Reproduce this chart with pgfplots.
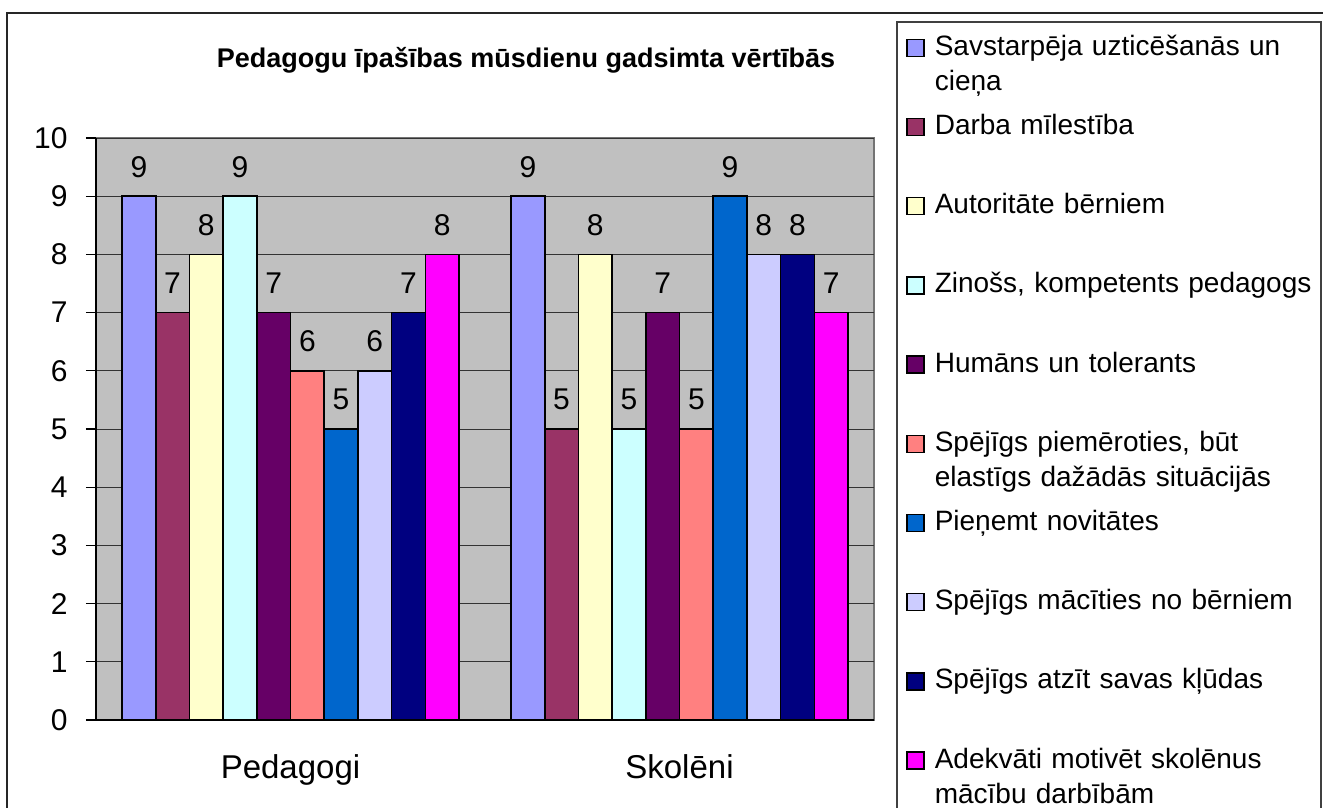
\documentclass[border=0pt]{standalone}
\usepackage{fontspec}
\setmainfont{Liberation Sans}
\usepackage{pgfplots}
\pgfplotsset{compat=1.18}
\definecolor{c1}{HTML}{9999FF}
\definecolor{c2}{HTML}{993366}
\definecolor{c3}{HTML}{FFFFCC}
\definecolor{c4}{HTML}{CCFFFF}
\definecolor{c5}{HTML}{660066}
\definecolor{c6}{HTML}{FF8080}
\definecolor{c7}{HTML}{0066CC}
\definecolor{c8}{HTML}{CCCCFF}
\definecolor{c9}{HTML}{000080}
\definecolor{c10}{HTML}{FF00FF}
\definecolor{plotbg}{HTML}{C0C0C0}

\begin{document}
\begin{tikzpicture}[x=0.5pt,y=-0.5pt]
\useasboundingbox (0,0) rectangle (1323,808);
% outer chart frame and legend box (cut off by the page edge)
\draw[black!85, line width=1pt] (7,830) -- (7,13) -- (1340,13);
\draw[black!75, line width=0.6pt] (897,830) -- (897,22) -- (1321,22) -- (1321,830);
\begin{axis}[
    at={(48pt,-360pt)}, anchor=south west,
    scale only axis, width=389pt, height=291pt,
    ybar=0pt, bar width=16.85pt,
    xmin=-0.5, xmax=1.5, ymin=0, ymax=10,
    xtick={0,1}, xticklabels={Pedagogi,Skolēni},
    ytick={0,1,...,10},
    axis x line*=bottom, axis y line*=left,
    axis line style={-, black, line width=0.6pt},
    axis background/.style={fill=plotbg, draw=black!55, line width=0.8pt},
    ymajorgrids, grid style={black!80, line width=0.5pt},
    tick align=outside, major tick length=5pt,
    major x tick style={draw=none},
    ytick style={black, line width=0.6pt},
    /pgf/number format/assume math mode=true,
    yticklabel style={font=\fontsize{15}{18}\selectfont, anchor=east, inner sep=0pt, xshift=-9pt},
    xticklabel style={font=\fontsize{16.5}{19}\selectfont, anchor=base, inner sep=0pt, yshift=-24pt},
    every axis title shift=0pt,
    title={Pedagogu īpašības mūsdienu gadsimta vērtībās},
    title style={at={(axis description cs:0.5527,1.122)}, anchor=base, inner sep=0pt,
                 font=\bfseries\fontsize{13.5}{16}\selectfont},
    nodes near coords,
    every node near coord/.append style={font=\fontsize{15}{18}\selectfont, black, inner sep=0pt, yshift=9pt},
    every axis plot/.append style={draw=black, line width=0.8pt},
    every axis plot post/.append style={legend image code/.code={
        \draw[##1, draw=black, line width=0.7pt] (0pt,-0.5pt) rectangle (8.5pt,8pt);}},
    legend style={at={(axis description cs:1.0411,1.1753)}, anchor=north west,
        draw=none, fill=none, inner sep=0pt, row sep=0pt, column sep=5pt,
        cells={anchor=base west},
        nodes={inner sep=0pt, font=\fontsize{14}{17.5}\selectfont,
               text width=200pt, align=left, text height=9.5pt, text depth=30.1pt}},
]
\addplot[fill=c1] coordinates {(0,9) (1,9)};
\addlegendentry{Savstarpēja uzticēšanās un\\cieņa}
\addplot[fill=c2] coordinates {(0,7) (1,5)};
\addlegendentry{Darba mīlestība}
\addplot[fill=c3] coordinates {(0,8) (1,8)};
\addlegendentry{Autoritāte bērniem}
\addplot[fill=c4] coordinates {(0,9) (1,5)};
\addlegendentry{Zinošs, kompetents pedagogs}
\addplot[fill=c5] coordinates {(0,7) (1,7)};
\addlegendentry{Humāns un tolerants}
\addplot[fill=c6] coordinates {(0,6) (1,5)};
\addlegendentry{Spējīgs piemēroties, būt\\elastīgs dažādās situācijās}
\addplot[fill=c7] coordinates {(0,5) (1,9)};
\addlegendentry{Pieņemt novitātes}
\addplot[fill=c8] coordinates {(0,6) (1,8)};
\addlegendentry{Spējīgs mācīties no bērniem}
\addplot[fill=c9] coordinates {(0,7) (1,8)};
\addlegendentry{Spējīgs atzīt savas kļūdas}
\addplot[fill=c10] coordinates {(0,8) (1,7)};
\addlegendentry{Adekvāti motivēt skolēnus\\mācību darbībām}
\end{axis}
\end{tikzpicture}
\end{document}
